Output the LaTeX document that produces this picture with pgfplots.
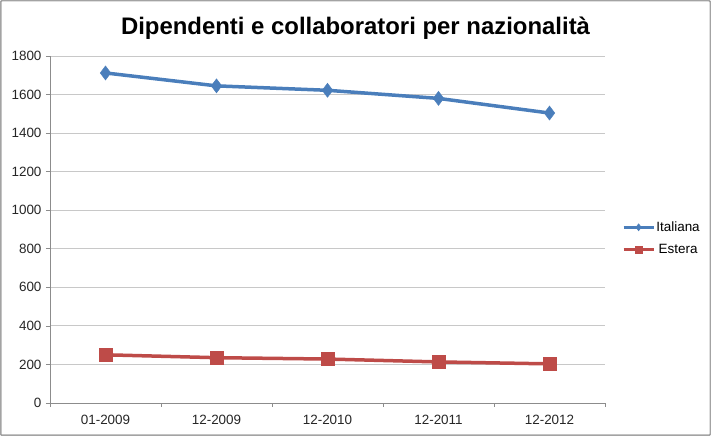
\documentclass[border=0pt]{standalone}
\usepackage{pgfplots}
\pgfplotsset{compat=1.18}
\usepackage{fontspec}
\setmainfont{Liberation Sans}
\definecolor{ital}{HTML}{4A7EBB}
\definecolor{est}{HTML}{BE4B48}
\definecolor{gridc}{HTML}{C8C8C8}
\definecolor{axc}{HTML}{8C8C8C}
\begin{document}
\begin{tikzpicture}[x=1bp,y=1bp]
\path[use as bounding box] (0,0) rectangle (711,436);
\draw[axc!80, line width=1.5bp, rounded corners=1bp] (0.75,0.75) rectangle (710.25,435.25);
\node[font=\fontsize{24}{28}\selectfont\bfseries] at (355.5,408) {Dipendenti e collaboratori per nazionalità};
\begin{axis}[
  at={(50bp,33bp)}, anchor=south west,
  scale only axis, width=555bp, height=347bp,
  xmin=-0.5, xmax=4.5, ymin=0, ymax=1800,
  ytick={0,200,...,1800},
  xtick={0,1,2,3,4},
  xticklabels={01-2009,12-2009,12-2010,12-2011,12-2012},
  minor xtick={-0.5,0.5,1.5,2.5,3.5,4.5},
  axis x line*=bottom, axis y line*=left,
  axis line style={axc, line width=0.8bp, -},
  ymajorgrids, grid style={gridc, line width=0.8bp},
  tick align=outside,
  major tick length=4bp, minor tick length=4bp,
  xtick style={draw=none},
  minor x tick style={draw=axc, line width=0.6bp},
  ytick style={axc, line width=0.6bp},
  ticklabel style={font=\fontsize{13.5}{16}\selectfont, text=black!85},
  /pgf/number format/assume math mode=true,
  /pgf/number format/1000 sep={},
  yticklabel style={xshift=-1bp},
  xticklabel style={yshift=-5bp},
  legend style={draw=none, fill=none, at={(1.03,0.475)}, anchor=west,
    font=\fontsize{13.5}{16}\selectfont, row sep=9bp, inner sep=0pt,
    nodes={inner sep=1bp}},
  legend image code/.code={
    \draw[#1, line width=3.5bp] (0bp,0bp) -- (30bp,0bp);
    \draw[#1, mark size=3.5bp, line width=0.5bp] plot coordinates {(15bp,0bp)};
  },
]
\addplot[color=ital, line width=3.5bp, mark=diamond*, mark size=7bp, mark options={line width=0.5bp, fill=ital}]
  coordinates {(0,1712) (1,1645) (2,1622) (3,1580) (4,1504)};
\addlegendentry{Italiana}
\addplot[color=est, line width=3.5bp, mark=square*, mark size=6.5bp, mark options={line width=0.5bp, fill=est}]
  coordinates {(0,250) (1,235) (2,228) (3,213) (4,203)};
\addlegendentry{Estera}
\end{axis}
\end{tikzpicture}
\end{document}
